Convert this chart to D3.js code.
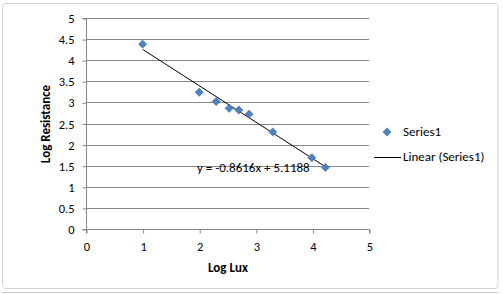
<!DOCTYPE html>
<html><head><meta charset="utf-8">
<script src="https://cdn.jsdelivr.net/npm/d3@7"></script>
<style>body{margin:0;background:#fff;}svg{display:block;font-family:Calibri,Carlito,Lato,sans-serif;}</style>
</head><body>
<svg id="c" width="503" height="294"></svg>
<script>
const xValues = [1.0, 2.0, 2.30, 2.53, 2.70, 2.88, 3.30, 3.99, 4.23];
const yValues = [4.38, 3.24, 3.02, 2.86, 2.82, 2.72, 2.30, 1.69, 1.46];
const slope = -0.8616, intercept = 5.1188;
const xTicks = [0,1,2,3,4,5];
const yTicks = [0,0.5,1,1.5,2,2.5,3,3.5,4,4.5,5];
const seriesName = "Series1";
const trendName = "Linear (Series1)";
const xTitle = "Log Lux", yTitle = "Log Resistance";
const eqText = "y = -0.8616x + 5.1188";

const svg = d3.select("#c");
svg.append("rect").attr("x",2.5).attr("y",3.5).attr("width",495.5).attr("height",285).attr("rx",3)
  .attr("fill","#fff").attr("stroke","#d4d4d4");
svg.append("line").attr("x1",2).attr("x2",498).attr("y1",292.5).attr("y2",292.5).attr("stroke","#c8c8c8");

const x = d3.scaleLinear().domain([0,5]).range([86,369]);
const y = d3.scaleLinear().domain([0,5]).range([229,18]);

// gridlines
svg.append("g").selectAll("line").data(yTicks.filter(d=>d>0)).join("line")
  .attr("x1",x(0)).attr("x2",x(5)).attr("y1",d=>Math.round(y(d))+0.5).attr("y2",d=>Math.round(y(d))+0.5)
  .attr("stroke","#868686");

const fmt = d=>String(d);
const gy = svg.append("g").attr("transform",`translate(${x(0)+0.5},0.5)`)
  .call(d3.axisLeft(y).tickValues(yTicks).tickFormat(fmt).tickSize(4).tickPadding(8));
const gx = svg.append("g").attr("transform",`translate(0.5,${Math.round(y(0))+0.5})`)
  .call(d3.axisBottom(x).tickValues(xTicks).tickFormat(fmt).tickSize(4).tickPadding(9));
[gy,gx].forEach(g=>{
  g.select(".domain").attr("stroke","#868686");
  g.selectAll(".tick line").attr("stroke","#868686");
  g.selectAll("text").attr("font-size","12.5px").attr("fill","#000").attr("font-family","Calibri,Carlito,Lato,sans-serif");
});
gy.select(".domain").attr("d",`M-4,${Math.round(y(5))}H0V${Math.round(y(0))}H-4`);
gx.select(".domain").attr("d",`M${x(0)},4V0H${x(5)}V4`);

// trendline
const xmin = d3.min(xValues), xmax = d3.max(xValues);
svg.append("line").attr("x1",x(xmin)).attr("y1",y(slope*xmin+intercept))
  .attr("x2",x(xmax)).attr("y2",y(slope*xmax+intercept)).attr("stroke","#000").attr("stroke-width",1);

// points
const diamond = d3.symbol().type(d3.symbolDiamond2 || d3.symbolDiamond).size(44);
svg.append("g").selectAll("path").data(xValues.map((v,i)=>[v,yValues[i]])).join("path")
  .attr("d",diamond).attr("transform",d=>`translate(${x(d[0])},${y(d[1])})`)
  .attr("fill","#4f81bd").attr("stroke","#3d6ba3").attr("stroke-width",0.5);

// equation
svg.append("text").attr("x",197).attr("y",172).attr("text-anchor","start")
  .attr("font-size","13px").text(eqText);

// axis titles
svg.append("text").attr("x",228).attr("y",272).attr("text-anchor","middle")
  .attr("font-size","13px").attr("font-weight","bold").text(xTitle);
svg.append("text").attr("transform","translate(50,124) rotate(-90)").attr("text-anchor","middle")
  .attr("font-size","13px").attr("font-weight","bold").text(yTitle);

// legend
svg.append("path").attr("d",diamond).attr("transform","translate(387,132)")
  .attr("fill","#4f81bd").attr("stroke","#3d6ba3").attr("stroke-width",0.5);
svg.append("text").attr("x",403).attr("y",136).attr("font-size","13px").text(seriesName);
svg.append("line").attr("x1",374).attr("x2",401).attr("y1",157.5).attr("y2",157.5).attr("stroke","#000");
svg.append("text").attr("x",403).attr("y",161).attr("font-size","13px").text(trendName);
</script>
</body></html>
